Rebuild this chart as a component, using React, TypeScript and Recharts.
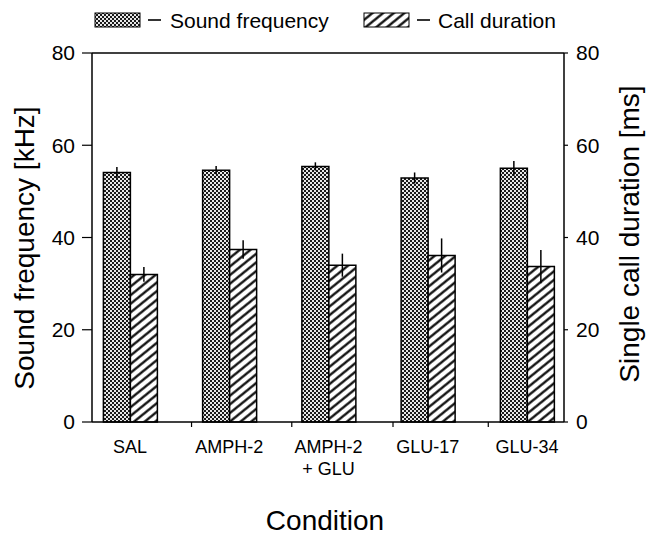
import React from 'react';
import { BarChart, Bar, XAxis, YAxis, ErrorBar, Legend, ReferenceLine } from 'recharts';

const FONT = '"Liberation Sans", Arial, Helvetica, sans-serif';

const categories = ['SAL', 'AMPH-2', 'AMPH-2\n+ GLU', 'GLU-17', 'GLU-34'];
const soundFrequency = [54.1, 54.6, 55.4, 52.9, 55.0];
const soundFrequencyErr = [1.2, 0.9, 0.9, 1.2, 1.6];
const callDuration = [32.0, 37.4, 34.0, 36.1, 33.7];
const callDurationErr = [1.6, 2.0, 2.5, 3.7, 3.6];
const yTicks = [0, 20, 40, 60, 80];
const categoryPositions = [0, 1, 2, 3, 4];
const separatorPositions = [0.62, 1.63, 2.65, 3.61];
const seriesNames = ['Sound frequency', 'Call duration'];

const data = categories.map((name, i) => ({
  pos: categoryPositions[i],
  name,
  sound: soundFrequency[i],
  soundErr: soundFrequencyErr[i],
  call: callDuration[i],
  callErr: callDurationErr[i],
}));

const allXTicks = [...categoryPositions, ...separatorPositions].sort((a, b) => a - b);

function Patterns({ prefix }: { prefix: string }) {
  return (
    <defs>
      <pattern id={`${prefix}cross`} width={4} height={4} patternUnits="userSpaceOnUse">
        <rect x={0} y={0} width={4} height={4} fill="#1a1a1a" />
        <rect x={0.05} y={0.05} width={1.9} height={1.9} fill="#ffffff" />
        <rect x={2.05} y={2.05} width={1.9} height={1.9} fill="#ffffff" />
      </pattern>
      <pattern id={`${prefix}hatch`} width={10} height={6.7} patternUnits="userSpaceOnUse" patternTransform="rotate(-39)">
        <rect x={0} y={0} width={10} height={6.7} fill="#ffffff" />
        <line x1={0} y1={3.35} x2={10} y2={3.35} stroke="#000" strokeWidth={2.2} />
      </pattern>
    </defs>
  );
}

function CategoryTick(props: any) {
  const { x, y, payload } = props;
  const v = payload?.value;
  const idx = categoryPositions.indexOf(v);
  if (idx >= 0) {
    const lines = categories[idx].split('\n');
    return (
      <g>
        {lines.map((ln, k) => (
          <text key={k} x={x} y={y + 31 + k * 22} textAnchor="middle" fontSize={18} fontFamily={FONT} fill="#000">
            {ln}
          </text>
        ))}
      </g>
    );
  }
  return <line x1={x} y1={y} x2={x} y2={y + 5} stroke="#000" strokeWidth={1.2} />;
}

function LeftTitle(props: any) {
  const vb = props.viewBox || { x: 0, y: 53, width: 92, height: 369 };
  const x = vb.x + 34;
  const y = 248;
  return (
    <text x={x} y={y} transform={`rotate(-90 ${x} ${y})`} textAnchor="middle" fontSize={28} fontFamily={FONT} fill="#000">
      Sound frequency [kHz]
    </text>
  );
}

function RightTitle(props: any) {
  const vb = props.viewBox || { x: 564, y: 53, width: 88, height: 369 };
  const x = vb.x + 75;
  const y = 234;
  return (
    <text x={x} y={y} transform={`rotate(-90 ${x} ${y})`} textAnchor="middle" fontSize={28} fontFamily={FONT} fill="#000">
      Single call duration [ms]
    </text>
  );
}

function BottomTitle(props: any) {
  const vb = props.viewBox || { x: 92, y: 422, width: 472, height: 115 };
  return (
    <text x={vb.x + vb.width / 2 - 3} y={vb.y + 108} textAnchor="middle" fontSize={28} fontFamily={FONT} fill="#000">
      Condition
    </text>
  );
}

const legendSwatchX = [95, 364];
const legendTextX = [170, 438];

function LegendContent() {
  const fills = ['url(#legcross)', 'url(#leghatch)'];
  return (
    <svg width={652} height={40} style={{ display: 'block' }}>
      <Patterns prefix="leg" />
      {seriesNames.map((name, i) => (
        <g key={name}>
          <rect x={legendSwatchX[i]} y={13} width={45} height={14} fill={fills[i]} stroke="#000" strokeWidth={1} />
          <line x1={legendSwatchX[i] + 53} y1={20} x2={legendSwatchX[i] + 66} y2={20} stroke="#000" strokeWidth={1.6} />
          <text x={legendTextX[i]} y={28} fontSize={21} fontFamily={FONT} fill="#000">
            {name}
          </text>
        </g>
      ))}
    </svg>
  );
}

export default function App() {
  return (
    <div style={{ position: 'absolute', left: 0, top: 0, width: 652, height: 537, background: '#fff' }}>
      <BarChart
        width={652}
        height={537}
        data={data}
        margin={{ top: 53, right: 0, bottom: 0, left: 0 }}
        barGap={0}
        barCategoryGap={0}
      >
        <Patterns prefix="" />
        <Legend
          verticalAlign="middle"
          align="center"
          layout="horizontal"
          wrapperStyle={{ top: 0, left: 0, width: 652, height: 40 }}
          content={<LegendContent />}
        />
        <XAxis
          xAxisId={0}
          type="number"
          dataKey="pos"
          domain={[-0.383, 4.373]}
          allowDataOverflow
          ticks={allXTicks}
          interval={0}
          tickSize={0}
          tickMargin={0}
          tickLine={false}
          tick={<CategoryTick />}
          height={115}
          axisLine={{ stroke: '#000', strokeWidth: 1.5 }}
          label={<BottomTitle />}
        />
        <YAxis
          yAxisId="left"
          orientation="left"
          domain={[0, 80]}
          ticks={yTicks}
          interval={0}
          width={92}
          tickSize={10}
          tickMargin={7}
          axisLine={{ stroke: '#000', strokeWidth: 1.5 }}
          tickLine={{ stroke: '#000', strokeWidth: 1.2 }}
          tick={{ fontSize: 21, fill: '#000', fontFamily: FONT }}
          label={<LeftTitle />}
        />
        <YAxis
          yAxisId="right"
          orientation="right"
          domain={[0, 80]}
          ticks={yTicks}
          interval={0}
          width={88}
          tickSize={4}
          tickMargin={8}
          axisLine={{ stroke: '#000', strokeWidth: 1.5 }}
          tickLine={{ stroke: '#000', strokeWidth: 1.2 }}
          tick={{ fontSize: 21, fill: '#000', fontFamily: FONT }}
          label={<RightTitle />}
        />
        <ReferenceLine yAxisId="left" y={80} stroke="#000" strokeWidth={1.5} />
        <Bar
          yAxisId="left"
          dataKey="sound"
          name={seriesNames[0]}
          fill="url(#cross)"
          stroke="#000"
          strokeWidth={1.5}
          barSize={27}
          isAnimationActive={false}
        >
          <ErrorBar dataKey="soundErr" width={0} stroke="#000" strokeWidth={1.5} direction="y" />
        </Bar>
        <Bar
          yAxisId="right"
          dataKey="call"
          name={seriesNames[1]}
          fill="url(#hatch)"
          stroke="#000"
          strokeWidth={1.5}
          barSize={27}
          isAnimationActive={false}
        >
          <ErrorBar dataKey="callErr" width={0} stroke="#000" strokeWidth={1.5} direction="y" />
        </Bar>
      </BarChart>
    </div>
  );
}
